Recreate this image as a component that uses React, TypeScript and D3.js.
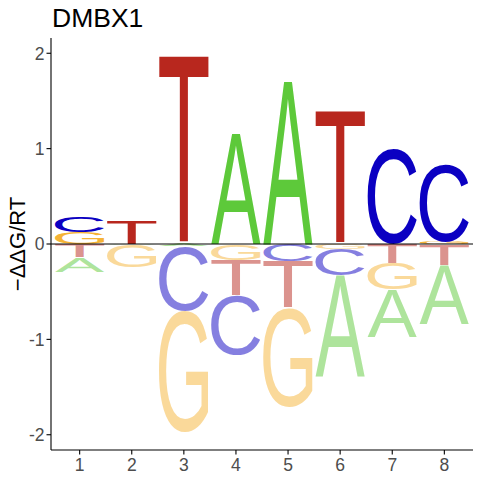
import * as d3 from 'd3';
import { useEffect, useRef } from 'react';

// energy logo for DMBX1
const positions = [1, 2, 3, 4, 5, 6, 7, 8];
const bases = ['A', 'C', 'G', 'T'];
const energyA = [-0.15, -0.01, -0.02, 1.16, 1.71, -1.06, -0.5, -0.62];
const energyC = [0.16, 0, -0.68, -0.62, -0.18, -0.28, 0.99, 0.82];
const energyG = [0.12, -0.23, -1.27, -0.17, -1.04, -0.05, -0.28, 0.02];
const energyT = [-0.14, 0.24, 1.97, -0.37, -0.49, 1.39, -0.2, -0.22];
const yTicks = [-2, -1, 0, 1, 2];

const colors: Record<string, string> = {
  A: '#5DC93A',
  C: '#0B00C2',
  G: '#F5B335',
  T: '#B8271E',
};

const FONT = '"Liberation Sans", Arial, sans-serif';

type Glyph = {
  base: string;
  pos: number;
  y0: number;
  y1: number;
  neg: boolean;
};

function stackGlyphs(): Glyph[] {
  const series: Record<string, number[]> = {
    A: energyA,
    C: energyC,
    G: energyG,
    T: energyT,
  };
  const out: Glyph[] = [];
  positions.forEach((p, i) => {
    const vals = bases
      .map((b) => ({ base: b, v: series[b][i] }))
      .filter((d) => Math.abs(d.v) > 0.001);
    // above zero: smallest at the bottom
    let top = 0;
    vals
      .filter((d) => d.v > 0)
      .sort((a, b) => a.v - b.v)
      .forEach((d) => {
        out.push({ base: d.base, pos: p, y0: top, y1: top + d.v, neg: false });
        top += d.v;
      });
    // below zero: smallest magnitude closest to the line
    let bot = 0;
    vals
      .filter((d) => d.v < 0)
      .sort((a, b) => b.v - a.v)
      .forEach((d) => {
        out.push({ base: d.base, pos: p, y0: bot + d.v, y1: bot, neg: true });
        bot += d.v;
      });
  });
  return out;
}

export default function App() {
  const width = 480;
  const height = 480;
  const margin = { top: 38, right: 7, bottom: 30, left: 51 };

  const gLetters = useRef<SVGGElement>(null);

  const x = d3
    .scaleLinear()
    .domain([0.45, 8.55])
    .range([margin.left, width - margin.right]);
  const y = d3
    .scaleLinear()
    .domain([-2.16, 2.16])
    .range([height - margin.bottom, margin.top]);

  useEffect(() => {
    const ctx = document.createElement('canvas').getContext('2d');
    if (!ctx) return;
    ctx.font = `100px ${FONT}`;

    const glyphs = stackGlyphs();
    const halfW = 0.475;

    d3.select(gLetters.current)
      .selectAll('text')
      .data(glyphs)
      .join('text')
      .attr('font-family', FONT)
      .attr('font-size', 100)
      .attr('fill', (d) => colors[d.base])
      .attr('fill-opacity', (d) => (d.neg ? 0.5 : 1))
      .attr('transform', (d) => {
        const m = ctx.measureText(d.base);
        const left = m.actualBoundingBoxLeft;
        const gw = left + m.actualBoundingBoxRight;
        const asc = m.actualBoundingBoxAscent;
        const gh = asc + m.actualBoundingBoxDescent;
        const x0 = x(d.pos - halfW);
        const x1 = x(d.pos + halfW);
        const yTop = y(d.y1);
        const yBot = y(d.y0);
        const sx = (x1 - x0) / gw;
        const sy = (yBot - yTop) / gh;
        return `translate(${x0},${yTop}) scale(${sx},${sy}) translate(${left},${asc})`;
      })
      .text((d) => d.base);
  }, [x, y]);

  const x0 = margin.left;
  const x1 = width - margin.right;
  const yb = height - margin.bottom;

  return (
    <svg
      width={width}
      height={height}
      style={{ position: 'absolute', left: 0, top: 0, background: '#fff' }}
      fontFamily={FONT}
    >
      <text x={52} y={27} fontSize={26.5} fill='#000'>
        DMBX1
      </text>
      <text
        transform={`translate(25,${(margin.top + yb) / 2}) rotate(-90)`}
        textAnchor='middle'
        fontSize={22}
        fill='#000'
      >
        {'\u2212ΔΔG/RT'}
      </text>

      <g ref={gLetters} />

      <line x1={x0} x2={x1} y1={y(0)} y2={y(0)} stroke='#000' strokeWidth={1} />

      {/* y axis */}
      <line x1={x0} x2={x0} y1={margin.top} y2={yb} stroke='#000' strokeWidth={1.1} />
      {yTicks.map((t) => (
        <g key={t}>
          <line x1={x0 - 4.5} x2={x0} y1={y(t)} y2={y(t)} stroke='#000' strokeWidth={1.1} />
          <text
            x={x0 - 6.5}
            y={y(t)}
            dy='0.36em'
            textAnchor='end'
            fontSize={17.5}
            fill='#4D4D4D'
          >
            {t}
          </text>
        </g>
      ))}

      {/* x axis */}
      <line x1={x0} x2={x1} y1={yb} y2={yb} stroke='#000' strokeWidth={1.1} />
      {positions.map((p) => (
        <g key={p}>
          <line x1={x(p)} x2={x(p)} y1={yb} y2={yb + 4.5} stroke='#000' strokeWidth={1.1} />
          <text x={x(p)} y={yb + 21} textAnchor='middle' fontSize={17.5} fill='#4D4D4D'>
            {p}
          </text>
        </g>
      ))}
    </svg>
  );
}
